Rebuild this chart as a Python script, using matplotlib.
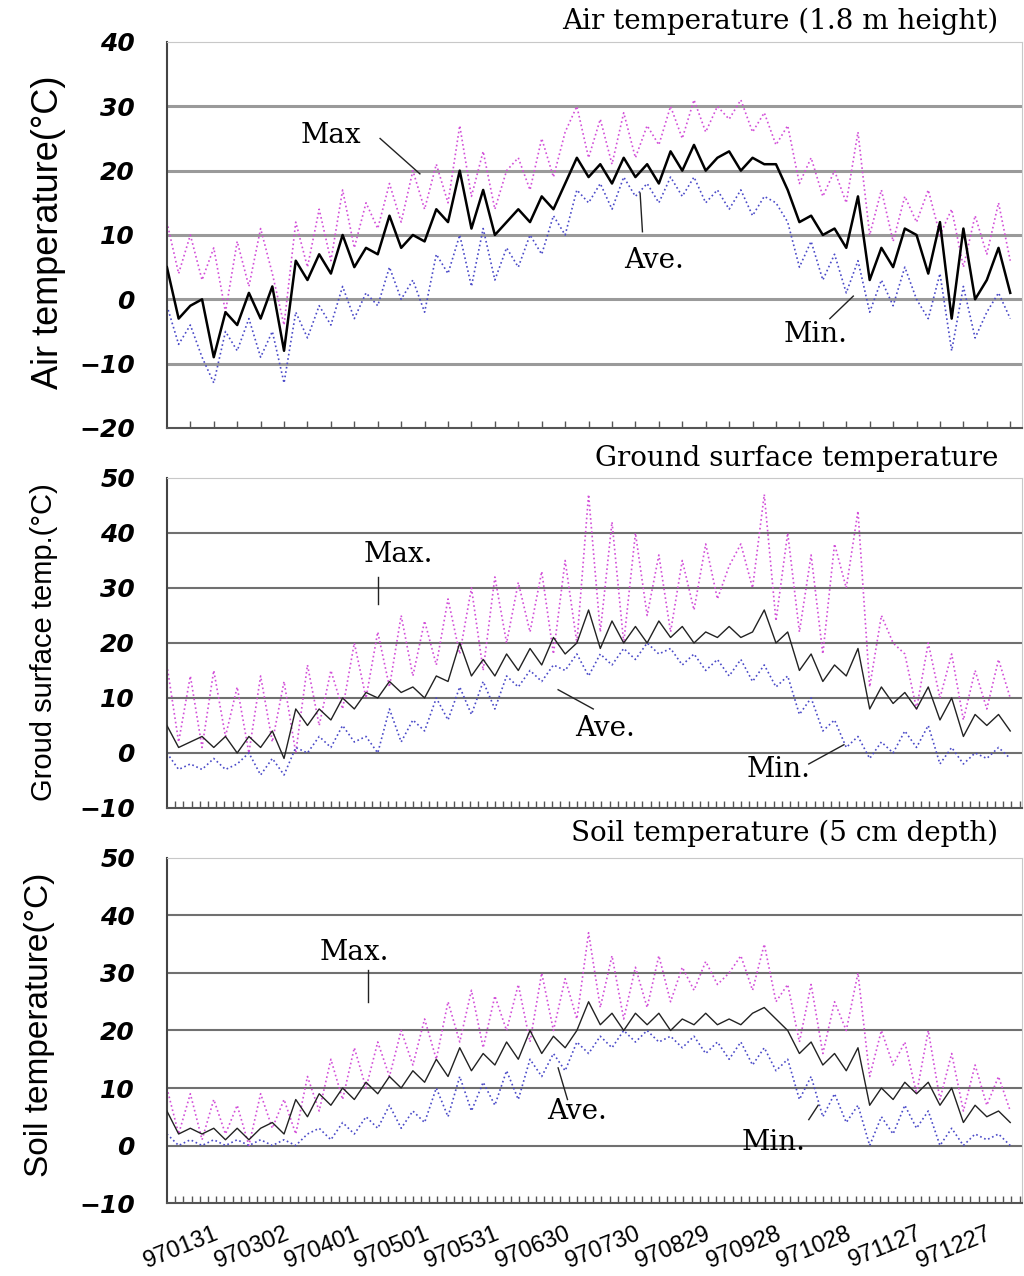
import numpy as np
import matplotlib
matplotlib.use("Agg")
import matplotlib.pyplot as plt
import matplotlib.transforms as mtransforms

# daily series of 1997, read every 5th day (day 1, 6, 11, ... 361)
days = np.arange(1, 366, 5)

air_ave = [5, -3, -1, 0, -9, -2, -4, 1, -3, 2, -8, 6, 3, 7, 4, 10, 5, 8, 7, 13,
           8, 10, 9, 14, 12, 20, 11, 17, 10, 12, 14, 12, 16, 14, 18, 22, 19, 21, 18, 22,
           19, 21, 18, 23, 20, 24, 20, 22, 23, 20, 22, 21, 21, 17, 12, 13, 10, 11, 8, 16,
           3, 8, 5, 11, 10, 4, 12, -3, 11, 0, 3, 8, 1]
air_max = [12, 4, 10, 3, 8, -2, 9, 2, 11, 4, -4, 12, 5, 14, 6, 17, 8, 15, 11, 18,
           12, 20, 14, 21, 15, 27, 16, 23, 14, 20, 22, 17, 25, 19, 26, 30, 22, 28, 21, 29,
           22, 27, 24, 30, 25, 31, 26, 30, 28, 31, 26, 29, 24, 27, 18, 22, 16, 20, 15, 26,
           10, 17, 9, 16, 12, 17, 10, 14, 5, 13, 7, 15, 6]
air_min = [-1, -7, -4, -9, -13, -5, -8, -3, -9, -5, -13, -2, -6, -1, -4, 2, -3, 1, -1, 5,
           0, 3, -2, 7, 4, 10, 2, 11, 3, 8, 5, 10, 7, 13, 10, 17, 15, 18, 14, 19,
           16, 18, 15, 19, 16, 19, 15, 17, 14, 17, 13, 16, 15, 12, 5, 9, 3, 7, 1, 6,
           -2, 3, -1, 5, 0, -3, 4, -8, 2, -6, -2, 1, -3]

gs_ave = [5, 1, 2, 3, 1, 3, 0, 3, 1, 4, -1, 8, 5, 8, 6, 10, 8, 11, 10, 13,
          11, 12, 10, 14, 13, 20, 14, 17, 14, 18, 15, 19, 16, 21, 18, 20, 26, 19, 24, 20,
          23, 20, 24, 21, 23, 20, 22, 21, 23, 21, 22, 26, 20, 22, 15, 18, 13, 16, 14, 19,
          8, 12, 9, 11, 8, 12, 6, 10, 3, 7, 5, 7, 4]
gs_max = [16, 2, 14, 1, 15, 3, 12, 0, 14, 2, 13, 0, 16, 5, 15, 8, 20, 10, 22, 12,
          25, 14, 24, 16, 28, 18, 30, 15, 32, 20, 31, 22, 33, 18, 35, 20, 47, 22, 42, 20,
          40, 25, 36, 22, 35, 26, 38, 28, 34, 38, 30, 47, 24, 40, 22, 36, 18, 38, 30, 44,
          12, 25, 20, 18, 8, 20, 10, 18, 6, 15, 8, 17, 10]
gs_min = [0, -3, -2, -3, -1, -3, -2, 0, -4, -1, -4, 1, 0, 3, 1, 5, 2, 3, 0, 8,
          2, 6, 4, 10, 6, 12, 7, 13, 8, 14, 12, 15, 13, 16, 15, 18, 14, 18, 16, 19,
          17, 20, 18, 19, 16, 18, 15, 17, 14, 17, 13, 16, 12, 14, 7, 10, 4, 6, 1, 3,
          -1, 2, 0, 4, 1, 5, -2, 1, -2, 0, -1, 1, -1]

soil_ave = [6, 2, 3, 2, 3, 1, 3, 1, 3, 4, 2, 8, 5, 9, 7, 10, 8, 11, 9, 12,
            10, 13, 11, 15, 12, 17, 13, 16, 14, 18, 15, 20, 16, 19, 17, 20, 25, 21, 23, 20,
            23, 21, 23, 20, 22, 21, 23, 21, 22, 21, 23, 24, 22, 20, 16, 18, 14, 16, 13, 17,
            7, 10, 8, 11, 9, 11, 7, 10, 4, 7, 5, 6, 4]
soil_max = [10, 2, 9, 1, 8, 2, 7, 0, 9, 3, 8, 2, 12, 6, 15, 8, 17, 10, 18, 12,
            20, 14, 22, 15, 25, 18, 27, 17, 26, 20, 28, 18, 30, 20, 29, 22, 37, 24, 33, 22,
            31, 24, 33, 25, 31, 27, 32, 28, 30, 33, 27, 35, 25, 28, 18, 28, 16, 25, 20, 30,
            12, 20, 14, 18, 9, 20, 8, 16, 6, 14, 7, 12, 6]
soil_min = [2, 0, 1, 0, 1, 0, 1, 0, 1, 0, 1, 0, 2, 3, 1, 4, 2, 5, 3, 7,
            3, 6, 4, 10, 5, 12, 6, 11, 7, 13, 8, 15, 12, 16, 13, 18, 16, 19, 17, 20,
            18, 20, 18, 19, 17, 19, 16, 18, 15, 18, 14, 17, 13, 15, 8, 12, 5, 9, 4, 7,
            0, 5, 2, 7, 3, 6, 0, 3, 0, 2, 1, 2, 0]

label_days = [31, 61, 91, 121, 151, 181, 211, 241, 271, 301, 331, 361]
date_labels = ['970131', '970302', '970401', '970501', '970531', '970630',
               '970730', '970829', '970928', '971028', '971127', '971227']

MAX_C = '#d24fd8'
MIN_C = '#4a4ac8'

fig = plt.figure(figsize=(10.24, 12.76), dpi=100)

panels = [
    dict(rect=[0.163, 0.6646, 0.835, 0.3025], ave=air_ave, mx=air_max, mn=air_min,
         ylim=(-20, 40), yticks=range(-20, 41, 10), ave_c='black', ave_lw=1.8,
         grid_c='#9a9a9a', grid_lw=2.2, title='Air temperature (1.8 m height)',
         title_y=0.983, ylab='Air temperature(°C)', ylab_xy=(0.047, 0.818), ylab_fs=26,
         minor=np.arange(11, 366, 10)),
    dict(rect=[0.163, 0.3668, 0.835, 0.2586], ave=gs_ave, mx=gs_max, mn=gs_min,
         ylim=(-10, 50), yticks=range(-10, 51, 10), ave_c='#222222', ave_lw=1.0,
         grid_c='#707070', grid_lw=1.5, title='Ground surface temperature',
         title_y=0.641, ylab='Groud surface temp.(°C)', ylab_xy=(0.043, 0.497), ylab_fs=21,
         minor=np.arange(4.5, 366, 3.5)),
    dict(rect=[0.163, 0.0572, 0.835, 0.2704], ave=soil_ave, mx=soil_max, mn=soil_min,
         ylim=(-10, 50), yticks=range(-10, 51, 10), ave_c='#222222', ave_lw=1.0,
         grid_c='#707070', grid_lw=1.5, title='Soil temperature (5 cm depth)',
         title_y=0.347, ylab='Soil temperature(°C)', ylab_xy=(0.039, 0.197), ylab_fs=24,
         minor=np.arange(4.5, 366, 3.5)),
]

axes = []
for p in panels:
    ax = fig.add_axes(p['rect'])
    for y in p['yticks']:
        if p['ylim'][0] < y < p['ylim'][1]:
            ax.axhline(y, color=p['grid_c'], lw=p['grid_lw'], zorder=1)
    ax.plot(days, p['mx'], ls=':', color=MAX_C, lw=1.2, zorder=2)
    ax.plot(days, p['mn'], ls=':', color=MIN_C, lw=1.2, zorder=2)
    ax.plot(days, p['ave'], ls='-', color=p['ave_c'], lw=p['ave_lw'], zorder=3)
    ax.set_xlim(1, 366)
    ax.set_ylim(*p['ylim'])
    ax.set_yticks(list(p['yticks']))
    ax.set_yticklabels([str(v).replace('-', '\u2212') for v in p['yticks']],
                       family='DejaVu Sans', fontweight='bold', fontstyle='italic',
                       fontsize=18)
    ax.tick_params(axis='y', length=0, pad=23)
    ax.set_xticks(p['minor'])
    ax.set_xticklabels([])
    ax.tick_params(axis='x', direction='in', length=5, width=1, color='#555555')
    ax.spines['left'].set_color('#444444')
    ax.spines['left'].set_linewidth(1.5)
    ax.spines['bottom'].set_color('#555555')
    ax.spines['bottom'].set_linewidth(1.5)
    ax.spines['top'].set_color('#c8c8c8')
    ax.spines['right'].set_color('#c8c8c8')
    fig.text(0.975, p['title_y'], p['title'], ha='right', va='center',
             family='DejaVu Serif', fontsize=20)
    fig.text(p['ylab_xy'][0], p['ylab_xy'][1], p['ylab'], rotation=90,
             ha='center', va='center', family='Liberation Sans', fontsize=p['ylab_fs'])
    axes.append(ax)

# date labels on bottom panel
ax3 = axes[2]
for d, lab in zip(label_days, date_labels):
    off = mtransforms.ScaledTranslation(-15 / 100, -40 / 100, fig.dpi_scale_trans)
    ax3.text(d, -10, lab, rotation=22, rotation_mode='anchor', ha='right', va='bottom',
             family='Liberation Sans', fontsize=17,
             transform=ax3.transData + off, clip_on=False)

# labels with leader lines
def tag(ax, text, txy, line):
    ax.text(txy[0], txy[1], text, ha='center', va='center',
            family='DejaVu Serif', fontsize=20, zorder=5)
    ax.plot(line[0], line[1], color='#222222', lw=1, zorder=5)

tag(axes[0], 'Max', (71, 25.5), ([92, 109], [25, 19.5]))
tag(axes[0], 'Ave.', (209, 6), ([203, 204], [16.5, 10.5]))
tag(axes[0], 'Min.', (278, -5.5), ([284, 294], [-3, 0.5]))

tag(axes[1], 'Max.', (100, 36), ([91, 91], [32, 27]))
tag(axes[1], 'Ave.', (188, 4.5), ([168, 183], [11.5, 8]))
tag(axes[1], 'Min.', (262, -3), ([275, 290], [-2, 1.5]))

tag(axes[2], 'Max.', (81, 33.5), ([87, 87], [30.5, 25]))
tag(axes[2], 'Ave.', (176, 6), ([168, 172], [13.5, 8]))
tag(axes[2], 'Min.', (260, 0.5), ([275, 279], [4.5, 7]))

fig.savefig('out.png', dpi=100)
